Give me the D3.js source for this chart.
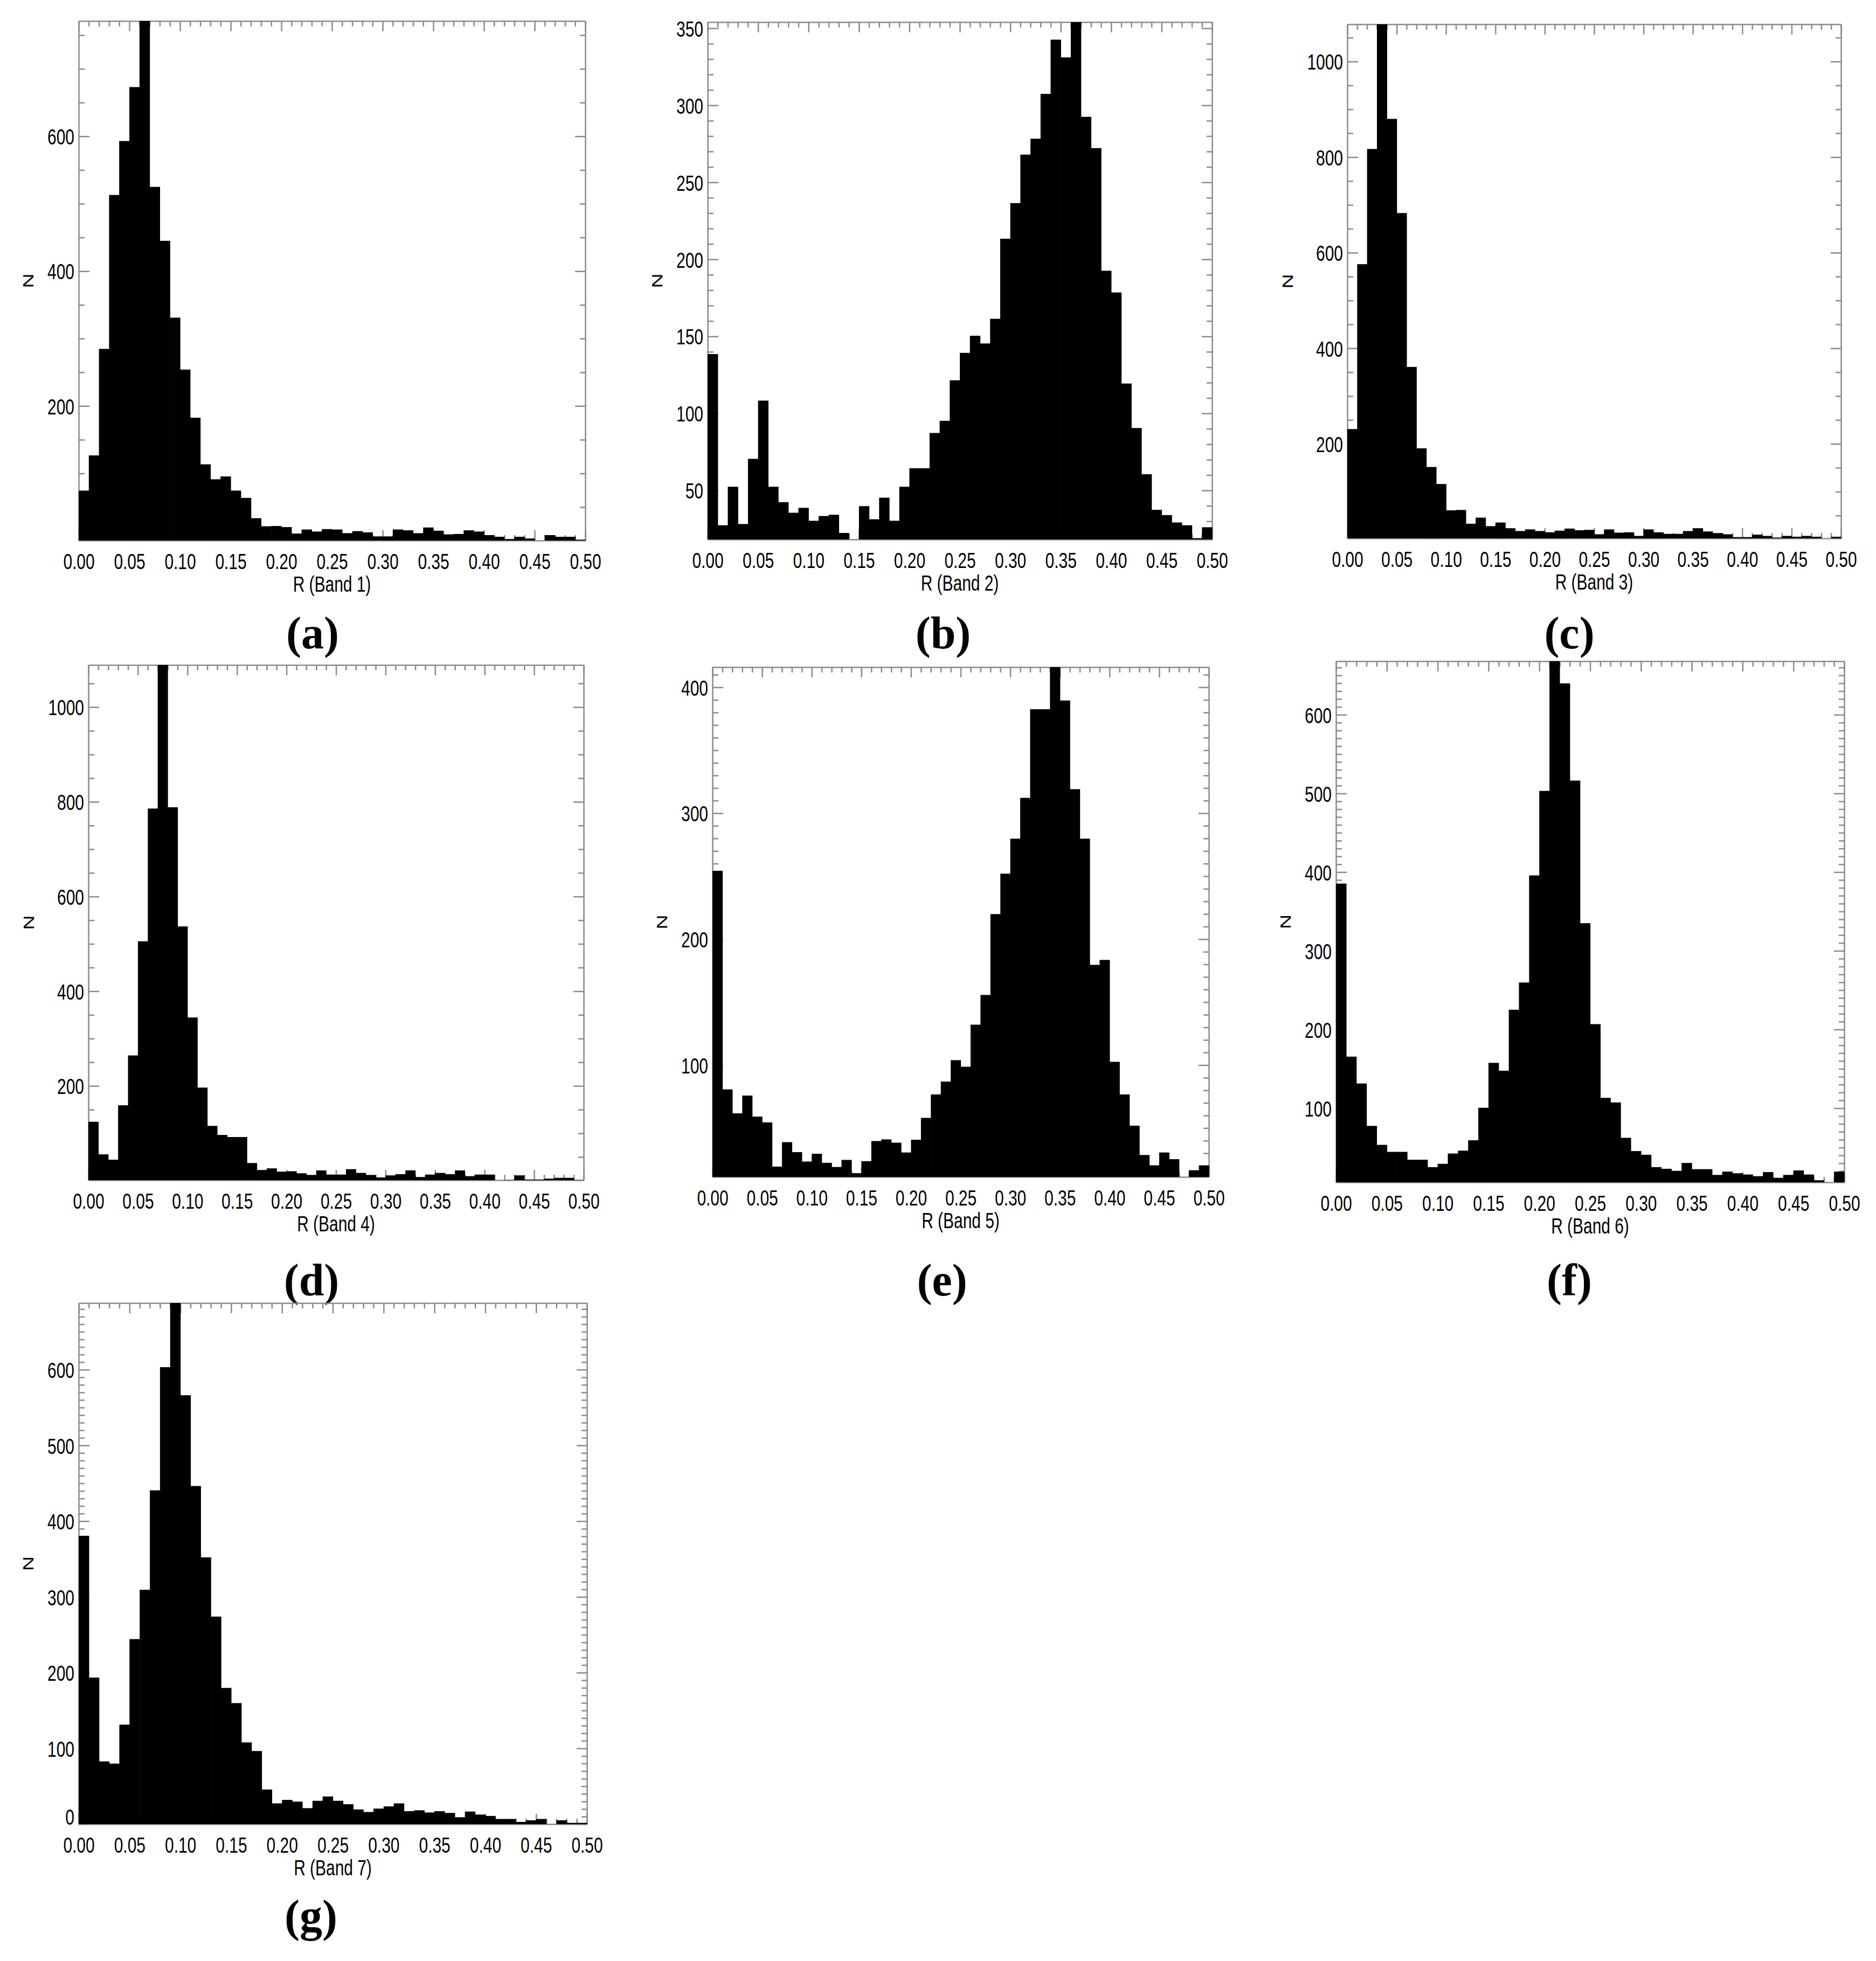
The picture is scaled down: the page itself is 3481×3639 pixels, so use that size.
<!DOCTYPE html>
<html><head><meta charset="utf-8">
<script src="https://cdn.jsdelivr.net/npm/d3@7"></script>
<style>body{margin:0;background:#fff}svg{display:block;background:#fff}</style>
</head><body><svg id="chart" width="3481" height="3639"></svg>
<script>
// ---- categories (bin lower edges of R, width 0.01) ----
const binStart = [0.00,0.01,0.02,0.03,0.04,0.05,0.06,0.07,0.08,0.09,
  0.10,0.11,0.12,0.13,0.14,0.15,0.16,0.17,0.18,0.19,
  0.20,0.21,0.22,0.23,0.24,0.25,0.26,0.27,0.28,0.29,
  0.30,0.31,0.32,0.33,0.34,0.35,0.36,0.37,0.38,0.39,
  0.40,0.41,0.42,0.43,0.44,0.45,0.46,0.47,0.48,0.49];
const binWidth = 0.01;
const xTickLabels = ["0.00","0.05","0.10","0.15","0.20","0.25","0.30","0.35","0.40","0.45","0.50"];

// ---- series values (counts N per bin) ----
const band1 = [74.5,126.7,284.7,513,593,673,771,525,445,331,254,182.6,113.5,91.3,95.5,74.5,63.7,33.6,21.6,22,
  20.4,10.8,16.8,13.8,17.4,16.8,11.4,14.4,12.6,6.6,6.6,16.8,15.6,11.4,19.8,15,9.6,10.2,15.6,13.8,
  8.5,6,2.7,6,3.5,0.5,8.5,6,6,1.8];
const band2 = [138.5,27.4,52.4,28.2,70.5,108.3,52.4,42.4,35.5,38.7,30.3,33.4,34.2,22.4,18.2,39.8,31.3,45.3,30.3,52.4,
  64.4,64.4,87.3,95.2,121.5,139.3,150.4,145.4,161.4,213.4,236.5,268,278.3,307.4,342.6,331.1,354,292.5,272.2,192.6,
  178.5,119.4,90.5,60.5,37.4,34,29.2,27.4,19,26.1];
const band3 = [231,576,817,1078,880,683,361,190.7,151.6,116,60.9,61.7,32.9,45.6,27.8,35.4,23.5,17.6,21,17.6,
  15,18.4,22.7,19.3,20.1,10.8,21,14.2,15,7.4,21,15,11.7,11.7,17.6,23.5,16.7,13.3,10.8,4.9,
  4.9,10,7.4,4,7.4,5.7,7.4,5.7,2.3,5.7];
const band4 = [124.3,55.5,44.2,159.1,264.4,505.5,785.8,1089,788.5,536.9,344.5,196.5,115.6,96.5,92.1,92.1,37.2,22.5,25.9,19,
  19.8,15.5,12,21.6,12.8,12.8,24.2,16.3,12,6.8,11.1,13.7,21.6,7.6,12.8,16.3,13.7,21.6,9.4,12.8,
  12.8,1,1.5,11.1,2.4,2.4,4.2,5.9,5.9,1.5];
const band5 = [254.3,80.7,61.7,75.8,59.1,54.5,19.4,38.8,30.9,23.4,29.6,22.4,19.1,24.7,14.2,23.7,39.7,41,38.4,30.6,
  40.7,58.1,76.7,86.9,103.9,98.7,132.1,155.7,219.9,252,279.8,312.2,382.6,382.6,416,389.5,319.1,279.8,179.6,183.5,
  102.6,76.7,51.9,28.6,20.4,30.6,25.3,11.2,16.5,20.4];
const band6 = [385.4,165.5,131.4,77.5,53.4,44.5,44.5,34.5,34.5,25.1,29.3,42.4,46.1,59.2,100.5,157.6,147.6,225.1,259.7,395.8,
  503.2,668,639.8,516.3,335.1,206.8,113.1,107.3,62.3,45.5,40.8,25.1,23,20.4,30.4,22.5,22.5,15.2,19.4,17.3,
  15.7,13.6,18.8,11.5,15.2,20.9,15.7,8.4,5.8,19.4];
const band7 = [380.7,193.5,82.8,79.9,131.3,244.3,309.4,440.7,603.3,688,566.2,446.4,352.2,274,179.8,159.8,107.9,96.5,45.7,27.4,
  32,29.7,21.1,30.8,36.5,30.8,26.3,19.4,16,20.5,23.4,27.4,17.1,18.3,15.4,17.1,14.8,9.1,16.6,12.6,
  10.8,6.8,6.8,2.9,5.1,6.8,0,5.1,1.7,1.7];

const seriesList = [band1, band2, band3, band4, band5, band6, band7];
const axisTitles = ["R (Band 1)","R (Band 2)","R (Band 3)","R (Band 4)","R (Band 5)","R (Band 6)","R (Band 7)"];
const panelLetters = ["(a)","(b)","(c)","(d)","(e)","(f)","(g)"];
const yTitle = "N";
const yMajorStep = [200,50,200,200,100,100,100];
const yMinorStep = [50,10,50,50,10,10,10];

// ---- layout (pixels) ----
const layout = [
  {left:146,  top:39,   right:1086, bottom:1003, capX:580,  capY:1183},
  {left:1313, top:41,   right:2249, bottom:1001, capX:1750, capY:1183},
  {left:2500, top:45,   right:3416, bottom:999,  capX:2912, capY:1183},
  {left:164,  top:1234, right:1083, bottom:2190, capX:578,  capY:2384},
  {left:1322, top:1238, right:2243, bottom:2184, capX:1748, capY:2384},
  {left:2479, top:1227, right:3422, bottom:2194, capX:2912, capY:2384},
  {left:146,  top:2418, right:1089, bottom:3385, capX:577,  capY:3564}
];
const FONT = "'Liberation Sans', Arial, Helvetica, sans-serif";
const FS = 41, SX = 0.73;
const AXIS_COLOR = "#8a8a8a";
const MAJ = 19, MIN = 10;

const svg = d3.select("#chart");
svg.append("rect").attr("width",3481).attr("height",3639).attr("fill","#fff");

function stepTicks(lo, hi, step) {
  const out = [];
  for (let k = Math.ceil(lo/step - 1e-9); k*step <= hi + 1e-9; k++) out.push(+(k*step).toFixed(6));
  return out;
}
function styleAxis(sel) {
  sel.select(".domain").attr("stroke", AXIS_COLOR).attr("stroke-width", 2.5);
  sel.selectAll(".tick line").attr("stroke", AXIS_COLOR).attr("stroke-width", 2.5);
  sel.selectAll("text").attr("fill","#000").style("font-family", FONT).style("font-size", FS+"px");
}

seriesList.forEach((values, p) => {
  const L = layout[p];
  const g = svg.append("g");
  const x = d3.scaleLinear().domain([0, 0.5]).range([L.left, L.right]);
  const [ymin, ymax] = d3.extent(values);
  const y = d3.scaleLinear().domain([ymin, ymax]).range([L.bottom, L.top]);

  const xMajor = xTickLabels.map(Number);
  const xMinor = binStart.concat([0.5]).filter(v => Math.abs(v/0.05 - Math.round(v/0.05)) > 1e-6);
  const yMajor = stepTicks(ymin, ymax, yMajorStep[p]);
  const yMinor = stepTicks(ymin, ymax, yMinorStep[p]).filter(v => Math.abs(v/yMajorStep[p] - Math.round(v/yMajorStep[p])) > 1e-6);

  // bottom axis (major with labels)
  const gb = g.append("g").attr("transform", `translate(0,${L.bottom})`)
    .call(d3.axisBottom(x).tickValues(xMajor).tickFormat((d,i)=>xTickLabels[i]).tickSize(-MAJ).tickSizeOuter(0).tickPadding(24));
  styleAxis(gb);
  gb.selectAll("text").attr("transform", `scale(${SX},1)`);
  const gbm = g.append("g").attr("transform", `translate(0,${L.bottom})`)
    .call(d3.axisBottom(x).tickValues(xMinor).tickFormat("").tickSize(-MIN).tickSizeOuter(0));
  gbm.select(".domain").remove(); styleAxis(gbm);
  // top axis
  const gt = g.append("g").attr("transform", `translate(0,${L.top})`)
    .call(d3.axisTop(x).tickValues(xMajor).tickFormat("").tickSize(-MAJ).tickSizeOuter(0));
  styleAxis(gt);
  const gtm = g.append("g").attr("transform", `translate(0,${L.top})`)
    .call(d3.axisTop(x).tickValues(xMinor).tickFormat("").tickSize(-MIN).tickSizeOuter(0));
  gtm.select(".domain").remove(); styleAxis(gtm);
  // left axis
  const gl = g.append("g").attr("transform", `translate(${L.left},0)`)
    .call(d3.axisLeft(y).tickValues(yMajor).tickFormat(d3.format("d")).tickSize(-MAJ-1).tickSizeOuter(0).tickPadding(8/SX));
  styleAxis(gl);
  gl.selectAll("text").attr("transform", `scale(${SX},1)`)
    .attr("dy", d => (y(d) + 0.358*FS > L.bottom) ? `${L.bottom - y(d)}px` : "0.36em");
  const glm = g.append("g").attr("transform", `translate(${L.left},0)`)
    .call(d3.axisLeft(y).tickValues(yMinor).tickFormat("").tickSize(-MIN-1).tickSizeOuter(0));
  glm.select(".domain").remove(); styleAxis(glm);
  // right axis
  const gr = g.append("g").attr("transform", `translate(${L.right},0)`)
    .call(d3.axisRight(y).tickValues(yMajor).tickFormat("").tickSize(-MAJ).tickSizeOuter(0));
  styleAxis(gr);
  const grm = g.append("g").attr("transform", `translate(${L.right},0)`)
    .call(d3.axisRight(y).tickValues(yMinor).tickFormat("").tickSize(-MIN).tickSizeOuter(0));
  grm.select(".domain").remove(); styleAxis(grm);

  // bars
  g.append("g").selectAll("rect").data(values).join("rect")
    .attr("x", (d,i) => x(binStart[i]))
    .attr("width", (d,i) => x(binStart[i] + binWidth) - x(binStart[i]) + 0.6)
    .attr("y", d => y(d))
    .attr("height", d => Math.max(0, y(ymin) - y(d)))
    .attr("fill", "#000");

  // x axis title
  g.append("text")
    .attr("transform", `translate(${(L.left+L.right)/2},${L.bottom+95}) scale(${SX},1)`)
    .attr("text-anchor","middle").attr("fill","#000")
    .style("font-family", FONT).style("font-size", FS+"px")
    .text(axisTitles[p]);

  // y axis title
  const maxDigits = d3.max(yMajor, v => String(v).length);
  const nx = L.left - 8 - maxDigits*0.556*FS*SX - 36;
  g.append("text")
    .attr("transform", `translate(${nx},${(L.top+L.bottom)/2}) scale(${SX},1) rotate(-90)`)
    .attr("text-anchor","middle").attr("dy","0.36em").attr("fill","#000")
    .style("font-family", FONT).style("font-size", "38px")
    .text(yTitle);

  // panel letter
  g.append("text")
    .attr("x", L.capX).attr("y", L.capY + 20)
    .attr("text-anchor","middle").attr("fill","#000")
    .style("font-family", "'Liberation Serif', 'Times New Roman', serif")
    .style("font-weight","bold").style("font-size","84px")
    .text(panelLetters[p]);
});
</script>
</body></html>
